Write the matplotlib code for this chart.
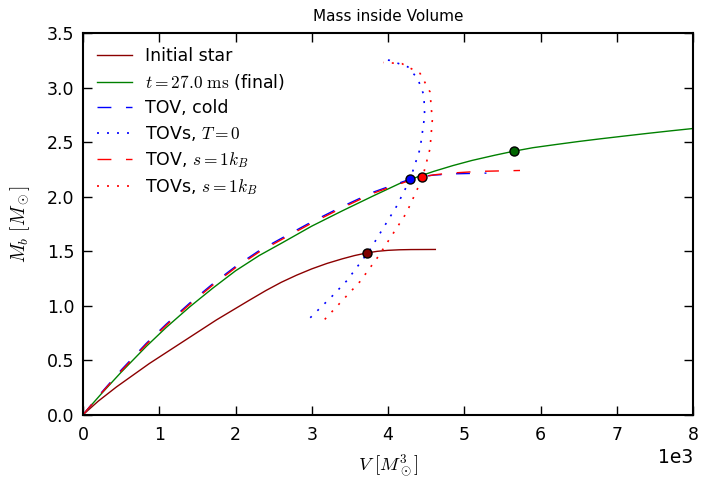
import numpy as np
import matplotlib
matplotlib.use("Agg")
import matplotlib.pyplot as plt

plt.rcParams["mathtext.fontset"] = "cm"
plt.rcParams["font.family"] = "DejaVu Sans"

# volumes in units of 1e3 M_sun^3, baryon masses in M_sun
v_init = [0.0, 0.2, 0.44, 0.87, 1.31, 1.75, 2.18, 2.4, 2.6, 2.8, 3.0, 3.2, 3.4, 3.56,
          3.72, 3.86, 4.0, 4.15, 4.3, 4.62]
m_init = [0.0, 0.125, 0.256, 0.47, 0.67, 0.87, 1.05, 1.14, 1.215, 1.28, 1.338, 1.388, 1.43, 1.46,
          1.484, 1.499, 1.508, 1.513, 1.515, 1.516]

v_final = [0.0, 0.12, 0.25, 0.5, 0.83, 1.09, 1.4, 1.7, 2.0, 2.31, 2.62, 3.0, 3.4, 3.8, 4.15,
           4.4, 4.6, 4.85, 5.1, 5.4, 5.65, 5.9, 6.2, 6.5, 6.78, 7.1, 7.4, 7.7, 8.0]
m_final = [0.0, 0.097, 0.20, 0.39, 0.627, 0.80, 0.99, 1.16, 1.32, 1.46, 1.58, 1.73, 1.87, 2.005, 2.12,
           2.185, 2.232, 2.285, 2.332, 2.38, 2.417, 2.449, 2.478, 2.506, 2.53, 2.556, 2.58, 2.603, 2.625]

v_tov_cold = [0.0, 0.25, 0.5, 0.83, 1.09, 1.4, 1.7, 2.0, 2.31, 2.62, 3.0, 3.4, 3.8, 4.0,
              4.29, 4.45, 4.6, 4.9, 5.29]
m_tov_cold = [0.0, 0.21, 0.41, 0.655, 0.83, 1.025, 1.20, 1.36, 1.505, 1.625, 1.77, 1.91, 2.04, 2.09,
              2.16, 2.185, 2.198, 2.21, 2.216]

v_tov_s1 = [0.0, 0.25, 0.5, 0.83, 1.09, 1.4, 1.7, 2.0, 2.31, 2.62, 3.0, 3.4, 3.8, 4.0,
            4.29, 4.44, 4.6, 4.8, 5.2, 5.73]
m_tov_s1 = [0.0, 0.205, 0.40, 0.645, 0.82, 1.013, 1.188, 1.348, 1.493, 1.613, 1.758, 1.898, 2.03, 2.08,
            2.15, 2.18, 2.2, 2.215, 2.232, 2.24]

v_seq_cold = [2.98, 3.27, 3.46, 3.76, 4.11, 4.29, 4.42, 4.48, 4.47, 4.39, 4.26, 4.02, 3.91]
m_seq_cold = [0.89, 1.09, 1.23, 1.51, 1.91, 2.16, 2.44, 2.74, 2.93, 3.08, 3.19, 3.25, 3.26]

v_seq_s1 = [3.17, 3.27, 3.63, 3.87, 4.24, 4.45, 4.55, 4.58, 4.55, 4.42, 4.18, 3.94]
m_seq_s1 = [0.875, 0.95, 1.22, 1.45, 1.85, 2.17, 2.44, 2.70, 2.96, 3.13, 3.22, 3.23]

# marked points: initial, final, TOV cold, TOV s=1
v_marks = [3.72, 5.65, 4.29, 4.44]
m_marks = [1.484, 2.417, 2.164, 2.18]
mark_colors = ["#800000", "#006400", "b", "r"]

scale = 1e3
dash = (10, 10.5)
dot = (1.2, 4.8)

fig = plt.figure(figsize=(7.03, 4.79), dpi=100)
ax = fig.add_axes([0.118, 0.134, 0.868, 0.797])

ax.plot(np.array(v_init) * scale, m_init, color="#8b0000", lw=1, label="Initial star")
ax.plot(np.array(v_final) * scale, m_final, color="g", lw=1,
        label=r"$t=27.0\ \mathrm{ms}$ (final)")
ax.plot(np.array(v_tov_cold) * scale, m_tov_cold, color="b", lw=1, dashes=dash,
        label="TOV, cold")
ax.plot(np.array(v_seq_cold) * scale, m_seq_cold, color="b", lw=1.2, dashes=dot,
        label=r"TOVs, $T=0$")
ax.plot(np.array(v_tov_s1) * scale, m_tov_s1, color="r", lw=1, dashes=dash,
        label=r"TOV, $s=1k_B$")
ax.plot(np.array(v_seq_s1) * scale, m_seq_s1, color="r", lw=1.2, dashes=dot,
        label=r"TOVs, $s=1k_B$")

for v, m, c in zip(v_marks, m_marks, mark_colors):
    ax.plot(v * scale, m, "o", color=c, mec="k", mew=1, ms=6.5, zorder=5)

ax.set_xlim(0, 8000)
ax.set_ylim(0, 3.5)
ax.set_yticks(np.arange(0, 3.51, 0.5))
ax.ticklabel_format(style="sci", axis="x", scilimits=(0, 0))
ax.xaxis.get_offset_text().set_fontsize(13.5)

ax.tick_params(direction="in", length=6.5, width=1, top=True, right=True,
               labelsize=12.5, pad=6)
ax.tick_params(axis="x", pad=8)
for sp in ax.spines.values():
    sp.set_linewidth(1.5)

ax.set_title("Mass inside Volume", fontsize=11, pad=9)
ax.set_xlabel(r"$V\ [M_\odot^3]$", fontsize=13.5, labelpad=6)
ax.set_ylabel(r"$M_b\ [M_\odot]$", fontsize=14, labelpad=11)

ax.legend(loc="upper left", frameon=False, fontsize=12.5, handlelength=2.0,
          labelspacing=0.4, borderaxespad=0.4)

fig.savefig("out.png", dpi=100)
